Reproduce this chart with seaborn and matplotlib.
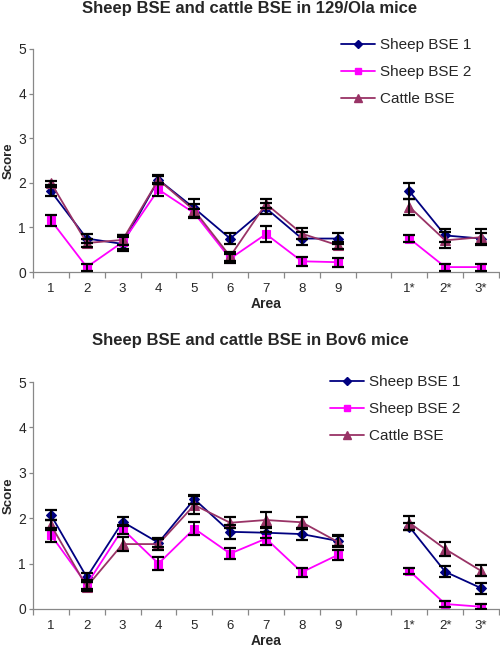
import numpy as np
import pandas as pd
import matplotlib
matplotlib.use("Agg")
import matplotlib.pyplot as plt
from matplotlib.lines import Line2D
import seaborn as sns

sns.set_style("white")
plt.rcParams['font.family'] = ['Liberation Sans', 'DejaVu Sans']

# ---------------- data ----------------
areas = ["1", "2", "3", "4", "5", "6", "7", "8", "9", "", "1*", "2*", "3*"]
series_names = ["Sheep BSE 1", "Sheep BSE 2", "Cattle BSE"]
nan = np.nan

titles = ["Sheep BSE and cattle BSE in 129/Ola mice",
          "Sheep BSE and cattle BSE in Bov6 mice"]

# 129/Ola mice
ola_sheep1 = [1.81, 0.75, 0.63, 2.07, 1.43, 0.75, 1.43, 0.75, 0.75, nan, 1.81, 0.82, 0.75]
ola_sheep2 = [1.16, 0.11, 0.67, 1.85, 1.32, 0.30, 0.85, 0.24, 0.22, nan, 0.75, 0.11, 0.11]
ola_cattle = [2.00, 0.65, 0.72, 2.07, 1.38, 0.35, 1.53, 0.86, 0.60, nan, 1.46, 0.71, 0.78]
ola_sheep1_err = [0.10, 0.10, 0.15, 0.10, 0.20, 0.12, 0.12, 0.14, 0.12, nan, 0.18, 0.15, 0.12]
ola_sheep2_err = [0.12, 0.08, 0.15, 0.14, 0.10, 0.10, 0.18, 0.10, 0.10, nan, 0.08, 0.08, 0.08]
ola_cattle_err = [0.05, 0.08, 0.12, 0.08, 0.15, 0.10, 0.10, 0.12, 0.08, nan, 0.18, 0.18, 0.18]

# Bov6 mice
bov_sheep1 = [2.07, 0.70, 1.92, 1.46, 2.42, 1.70, 1.68, 1.65, 1.50, nan, 1.81, 0.82, 0.46]
bov_sheep2 = [1.63, 0.54, 1.76, 1.00, 1.77, 1.22, 1.55, 0.81, 1.19, nan, 0.84, 0.11, 0.05]
bov_cattle = [1.85, 0.49, 1.43, 1.43, 2.29, 1.90, 1.96, 1.91, 1.48, nan, 1.90, 1.32, 0.84]
bov_sheep1_err = [0.10, 0.10, 0.10, 0.10, 0.10, 0.15, 0.12, 0.12, 0.12, nan, 0.08, 0.12, 0.12]
bov_sheep2_err = [0.15, 0.10, 0.10, 0.15, 0.15, 0.12, 0.15, 0.10, 0.12, nan, 0.06, 0.06, 0.05]
bov_cattle_err = [0.10, 0.10, 0.15, 0.12, 0.20, 0.12, 0.18, 0.12, 0.12, nan, 0.15, 0.15, 0.12]

colors = ["#000080", "#FF00FF", "#993366"]
markers = ["D", "s", "^"]
msizes = [5.5, 6, 7]

panels = [
    (ola_sheep1, ola_sheep2, ola_cattle, ola_sheep1_err, ola_sheep2_err, ola_cattle_err),
    (bov_sheep1, bov_sheep2, bov_cattle, bov_sheep1_err, bov_sheep2_err, bov_cattle_err),
]

fig = plt.figure(figsize=(5.0, 6.47), dpi=100)
W, H = 500.0, 647.0
ax_boxes = [
    (33 / W, 1 - 272 / H, 466 / W, (272 - 49) / H),
    (33 / W, 1 - 609 / H, 466 / W, (609 - 382) / H),
]
title_y = [8, 340]
legend_xy = [(341, 38), (330, 375)]

for p, (box, vals) in enumerate(zip(ax_boxes, panels)):
    ax = fig.add_axes(box)
    ys = vals[:3]
    errs = vals[3:]
    pos = np.arange(len(areas))
    handles = []
    for i in range(3):
        y = np.asarray(ys[i], dtype=float)
        e = np.asarray(errs[i], dtype=float)
        df = pd.DataFrame({"pos": pos, "score": y})
        df["seg"] = np.cumsum(np.isnan(df["score"]))
        df = df.dropna()
        for seg, d in df.groupby("seg"):
            sns.lineplot(data=d, x="pos", y="score", ax=ax, color=colors[i],
                         marker=markers[i], markersize=msizes[i],
                         markeredgecolor=colors[i], markeredgewidth=0.8,
                         linewidth=1.3, zorder=2, legend=False)
        ok = ~np.isnan(y)
        ax.errorbar(pos[ok], y[ok], yerr=e[ok], fmt="none", ecolor="black",
                    elinewidth=1.3, capsize=4, capthick=1.6, zorder=3)
        handles.append(Line2D([], [], color=colors[i], marker=markers[i],
                              markersize=msizes[i] - 1, markeredgecolor=colors[i],
                              linewidth=1.3, label=series_names[i]))

    ax.set_xlim(-0.5, len(areas) - 0.5)
    ax.set_ylim(0, 5)
    ax.set_xticks(pos)
    ax.set_xticklabels(areas)
    ax.set_xticks(np.arange(len(areas) + 1) - 0.5, minor=True)
    ax.tick_params(axis="x", which="major", length=0, pad=8, labelsize=9.5)
    ax.tick_params(axis="x", which="minor", length=4, width=0.9, color="#888888",
                   direction="out", bottom=True)
    ax.set_yticks([0, 1, 2, 3, 4, 5])
    ax.tick_params(axis="y", length=3, width=0.9, color="#888888", direction="out",
                   left=True, labelsize=10, pad=2)
    for s in ["top", "right"]:
        ax.spines[s].set_visible(False)
    for s in ["left", "bottom"]:
        ax.spines[s].set_color("#888888")
        ax.spines[s].set_linewidth(0.9)
    ax.set_xlabel("Area", fontsize=10, fontweight="bold")
    ax.xaxis.set_label_coords(0.5, -0.11)
    ax.set_ylabel("Score", fontsize=9.5, fontweight="bold")
    ax.yaxis.set_label_coords(-0.040, 0.5)

    fig.text(0.5, 1 - title_y[p] / H, titles[p], ha="center", va="center",
             fontsize=12, fontweight="bold")

    lx, ly = legend_xy[p]
    fig.legend(handles=handles, loc="upper left",
               bbox_to_anchor=(lx / W, 1 - ly / H), bbox_transform=fig.transFigure,
               frameon=False, fontsize=11, handlelength=2.2, handletextpad=0.35,
               labelspacing=0.85, borderpad=0, borderaxespad=0)

fig.savefig("out.png", dpi=100)
